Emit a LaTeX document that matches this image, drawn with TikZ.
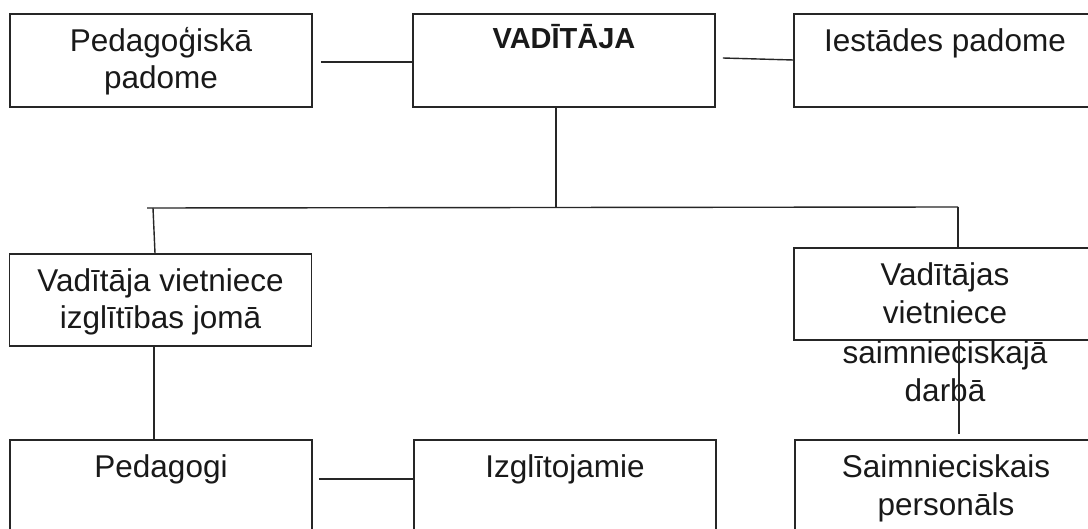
\documentclass[tikz,border=0pt]{standalone}
\usepackage{fontspec}
\setmainfont{Liberation Sans}
\newcommand{\capstrut}{\rule{0pt}{0.95em}}
\tikzset{
  x=1pt, y=-1pt,
  box/.style={draw=black!85, line width=1.6pt, minimum width=302pt,
    minimum height=93pt, inner sep=0pt},
  boxtext/.style={anchor=north, inner sep=0pt, align=center, text=black!90,
    font=\fontsize{31.5}{37.5}\selectfont},
  link/.style={draw=black!85, line width=1.4pt},
}
\begin{document}
\begin{tikzpicture}
\clip (0,0) rectangle (1088,529);
\fill[white] (0,0) rectangle (1088,529);

% top row
\node[box] (ped)  at (161,60.5) {};
\node[box] (vad)  at (564,60.5) {};
\node[box] (iest) at (945,60.5) {};
% deputies
\node[box, minimum height=92pt] (vietA) at (160.5,300) {};
\node[box, minimum height=92pt] (vietB) at (945,294) {};
% bottom row
\node[box] (pedag) at (161,486.5) {};
\node[box] (izgl)  at (565,486.5) {};
\node[box] (saim)  at (946,486.5) {};

% box captions
\node[boxtext] (pedT) at ([yshift=-8pt]ped.north) {\capstrut Pedagoģiskā\\padome};
\node[boxtext, font=\fontsize{29}{35}\selectfont\bfseries] (vadT) at ([yshift=-8pt]vad.north) {\capstrut VADĪTĀJA};
\node[boxtext] (iestT) at ([yshift=-8pt]iest.north) {\capstrut Iestādes padome};
\node[boxtext] (vietAT) at ([yshift=-8pt]vietA.north) {\capstrut Vadītāja vietniece\\izglītības jomā};
\node[boxtext, font=\fontsize{31.5}{38}\selectfont] (vietBT) at ([yshift=-8pt]vietB.north) {\capstrut Vadītājas\\vietniece\\[2pt]saimnieciskajā\\darbā};
\node[boxtext] (pedagT) at ([yshift=-8pt]pedag.north) {\capstrut Pedagogi};
\node[boxtext] (izglT) at ([yshift=-8pt]izgl.north) {\capstrut Izglītojamie};
\node[boxtext, font=\fontsize{31.5}{38}\selectfont] (saimT) at ([yshift=-8pt]saim.north) {\capstrut Saimnieciskais\\personāls};

% side links of the head
\draw[link] ([xshift=8pt,yshift=-1.5pt]ped.east) -- ([yshift=-1.5pt]vad.west);
\draw[link] ([xshift=7pt,yshift=2.5pt]vad.east) -- ([yshift=0.5pt]iest.west);

% branching to the deputies
\coordinate (hub)   at ([xshift=-8pt,yshift=-100.5pt]vad.south);
\coordinate (armL)  at (147,208);
\coordinate (dropL) at (153,208);
\coordinate (armR)  at (958,207);
\draw[link] ([xshift=-8pt]vad.south) -- (hub);
\draw[link] (armL) -- (armR);
\draw[link] (dropL) -- ([xshift=-5.5pt]vietA.north);
\draw[link] (armR) -- ([xshift=13pt]vietB.north);

% deputies to staff
\draw[link] ([xshift=-6.5pt]vietA.south) -- ([xshift=-7pt]pedag.north);
\draw[link] ([xshift=14pt]vietB.south) -- ([xshift=13pt,yshift=5pt]saim.north);
\draw[link] ([xshift=6pt,yshift=7.5pt]pedag.east) -- ([yshift=7.5pt]izgl.west);
\end{tikzpicture}
\end{document}
